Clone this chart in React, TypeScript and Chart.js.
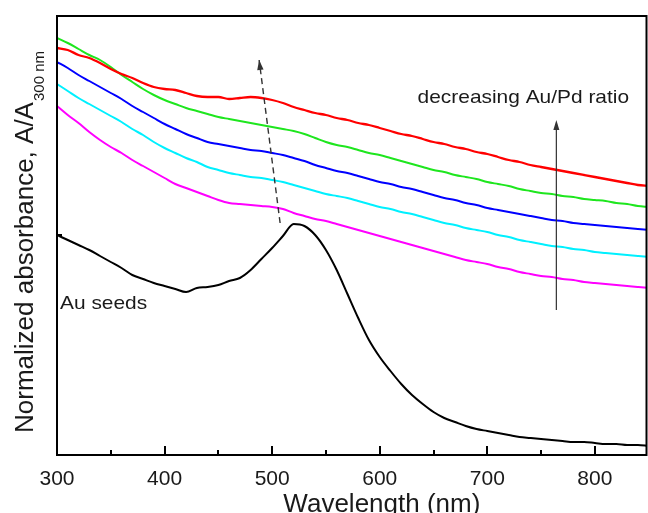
import React, { useEffect, useRef } from 'react';
import { Chart, registerables } from 'chart.js';

Chart.register(...registerables);

// Wavelength grid (nm)
const wavelengths = [
  300, 310, 320, 330, 340, 350, 360, 370, 380, 390,
  400, 410, 420, 430, 440, 450, 460, 470, 480, 490,
  500, 510, 520, 530, 540, 550, 560, 570, 580, 590,
  600, 610, 620, 630, 640, 650, 660, 670, 680, 690,
  700, 710, 720, 730, 740, 750, 760, 770, 780, 790,
  800, 810, 820, 830, 840, 850,
];

// Normalized absorbance (offset, arbitrary units)
const redSeries = [
  4.07, 4.05, 4.00, 3.97, 3.92, 3.86, 3.81, 3.77, 3.72, 3.68,
  3.66, 3.65, 3.62, 3.59, 3.58, 3.58, 3.56, 3.57, 3.58, 3.57,
  3.55, 3.52, 3.48, 3.45, 3.42, 3.40, 3.37, 3.35, 3.32, 3.30,
  3.27, 3.24, 3.21, 3.19, 3.16, 3.13, 3.11, 3.08, 3.06, 3.03,
  3.01, 2.98, 2.95, 2.93, 2.90, 2.88, 2.86, 2.84, 2.82, 2.80,
  2.78, 2.76, 2.74, 2.72, 2.70, 2.69,
];
const greenSeries = [
  4.17, 4.12, 4.06, 4.00, 3.95, 3.88, 3.80, 3.73, 3.66, 3.60,
  3.55, 3.51, 3.47, 3.44, 3.41, 3.38, 3.36, 3.34, 3.32, 3.30,
  3.28, 3.26, 3.24, 3.21, 3.17, 3.13, 3.10, 3.08, 3.05, 3.02,
  3.00, 2.97, 2.94, 2.91, 2.88, 2.85, 2.83, 2.80, 2.78, 2.76,
  2.73, 2.71, 2.69, 2.66, 2.64, 2.62, 2.61, 2.59, 2.58, 2.56,
  2.55, 2.54, 2.52, 2.51, 2.49, 2.48,
];
const blueSeries = [
  3.93, 3.87, 3.80, 3.74, 3.68, 3.62, 3.56, 3.49, 3.43, 3.37,
  3.31, 3.26, 3.21, 3.17, 3.13, 3.11, 3.09, 3.07, 3.05, 3.04,
  3.02, 3.00, 2.97, 2.94, 2.90, 2.87, 2.84, 2.82, 2.79, 2.76,
  2.73, 2.71, 2.68, 2.66, 2.63, 2.60, 2.57, 2.55, 2.52, 2.50,
  2.47, 2.45, 2.43, 2.41, 2.39, 2.37, 2.35, 2.34, 2.32, 2.31,
  2.30, 2.29, 2.28, 2.27, 2.26, 2.25,
];
const cyanSeries = [
  3.71, 3.64, 3.57, 3.51, 3.45, 3.39, 3.33, 3.26, 3.20, 3.13,
  3.07, 3.02, 2.97, 2.93, 2.88, 2.85, 2.82, 2.80, 2.78, 2.77,
  2.75, 2.73, 2.70, 2.67, 2.64, 2.61, 2.59, 2.57, 2.54, 2.51,
  2.48, 2.46, 2.43, 2.41, 2.38, 2.35, 2.32, 2.30, 2.27, 2.25,
  2.23, 2.20, 2.18, 2.15, 2.13, 2.11, 2.09, 2.08, 2.06, 2.05,
  2.03, 2.02, 2.01, 2.00, 1.99, 1.98,
];
const magentaSeries = [
  3.49, 3.40, 3.32, 3.23, 3.15, 3.08, 3.02, 2.95, 2.89, 2.83,
  2.77, 2.71, 2.67, 2.63, 2.59, 2.55, 2.52, 2.51, 2.50, 2.49,
  2.48, 2.46, 2.42, 2.39, 2.36, 2.34, 2.31, 2.28, 2.25, 2.22,
  2.19, 2.16, 2.13, 2.10, 2.07, 2.04, 2.01, 1.98, 1.95, 1.93,
  1.91, 1.88, 1.86, 1.83, 1.81, 1.79, 1.78, 1.76, 1.75, 1.73,
  1.72, 1.71, 1.70, 1.69, 1.68, 1.67,
];
const auSeedsSeries = [
  2.20, 2.15, 2.10, 2.05, 1.99, 1.93, 1.87, 1.80, 1.76, 1.72,
  1.69, 1.66, 1.63, 1.67, 1.68, 1.70, 1.74, 1.77, 1.85, 1.96,
  2.07, 2.19, 2.31, 2.29, 2.20, 2.05, 1.85, 1.61, 1.37, 1.15,
  0.98, 0.84, 0.71, 0.60, 0.51, 0.43, 0.37, 0.33, 0.29, 0.26,
  0.24, 0.22, 0.20, 0.18, 0.17, 0.16, 0.15, 0.14, 0.13, 0.13,
  0.12, 0.11, 0.11, 0.10, 0.10, 0.09,
];

const seriesList = [
  { label: 'Au/Pd 1', values: redSeries, color: '#ff0000', width: 2.3 },
  { label: 'Au/Pd 2', values: greenSeries, color: '#1ee61e', width: 2 },
  { label: 'Au/Pd 3', values: blueSeries, color: '#0000ff', width: 2 },
  { label: 'Au/Pd 4', values: cyanSeries, color: '#00f0ff', width: 2 },
  { label: 'Au/Pd 5', values: magentaSeries, color: '#ff00ff', width: 2 },
  { label: 'Au seeds', values: auSeedsSeries, color: '#000000', width: 2 },
];

const xMajorTicks = [300, 400, 500, 600, 700, 800];
const xMinorTicks = [350, 450, 550, 650, 750];
const yTickValues = [2.2];

const X_MIN = 300;
const X_MAX = 848;
const Y_MIN = 0;
const Y_MAX = 4.39;

const xTitle = 'Wavelength (nm)';
const yTitleMain = 'Normalized absorbance, A/A';
const yTitleSub = '300 nm';

const textLabels = [
  { text: 'decreasing Au/Pd ratio', x: 733.5, y: 3.52, align: 'center' },
  { text: 'Au seeds', x: 302.8, y: 1.46, align: 'left' },
];
const dashedArrow = { from: [507.4, 2.32], to: [487.9, 3.95] };
const solidArrow = { from: [764.2, 1.45], to: [764.2, 3.35] };

const FONT = '"Liberation Sans", Arial, Helvetica, sans-serif';

function drawArrowHead(ctx: CanvasRenderingContext2D, x1: number, y1: number, x2: number, y2: number, len: number, half: number) {
  const ang = Math.atan2(y2 - y1, x2 - x1);
  const bx = x2 - len * Math.cos(ang);
  const by = y2 - len * Math.sin(ang);
  const px = -Math.sin(ang) * half;
  const py = Math.cos(ang) * half;
  ctx.beginPath();
  ctx.moveTo(x2, y2);
  ctx.lineTo(bx + px, by + py);
  ctx.lineTo(bx - px, by - py);
  ctx.closePath();
  ctx.fill();
}

function tickLine(ctx: CanvasRenderingContext2D, x1: number, y1: number, x2: number, y2: number) {
  ctx.beginPath();
  ctx.moveTo(x1, y1);
  ctx.lineTo(x2, y2);
  ctx.stroke();
}

const framePlugin = {
  id: 'framePlugin',
  afterDraw(chart: any) {
    const { ctx, chartArea, scales } = chart;
    const xs = scales.x;
    const ys = scales.y;
    const { left, right, top, bottom } = chartArea;
    ctx.save();
    ctx.setLineDash([]);

    // frame
    ctx.strokeStyle = '#000000';
    ctx.lineWidth = 2;
    ctx.strokeRect(left, top, right - left, bottom - top);

    // ticks (inward)
    ctx.lineWidth = 2;
    for (const v of xMajorTicks) {
      const px = Math.round(xs.getPixelForValue(v));
      tickLine(ctx, px, bottom, px, bottom - 9);
    }
    for (const v of xMinorTicks) {
      const px = Math.round(xs.getPixelForValue(v));
      tickLine(ctx, px, bottom, px, bottom - 5);
    }
    for (const v of yTickValues) {
      const py = Math.round(ys.getPixelForValue(v));
      tickLine(ctx, left, py, left + 5, py);
    }

    // arrows
    ctx.fillStyle = '#333333';
    ctx.strokeStyle = '#333333';
    {
      const x1 = xs.getPixelForValue(dashedArrow.from[0]);
      const y1 = ys.getPixelForValue(dashedArrow.from[1]);
      const x2 = xs.getPixelForValue(dashedArrow.to[0]);
      const y2 = ys.getPixelForValue(dashedArrow.to[1]);
      ctx.lineWidth = 1.4;
      ctx.setLineDash([6, 4]);
      tickLine(ctx, x1, y1, x2, y2);
      ctx.setLineDash([]);
      drawArrowHead(ctx, x1, y1, x2, y2, 10, 3.2);
    }
    {
      const x1 = xs.getPixelForValue(solidArrow.from[0]);
      const y1 = ys.getPixelForValue(solidArrow.from[1]);
      const x2 = xs.getPixelForValue(solidArrow.to[0]);
      const y2 = ys.getPixelForValue(solidArrow.to[1]);
      ctx.lineWidth = 1.2;
      tickLine(ctx, x1, y1, x2, y2 + 6);
      drawArrowHead(ctx, x1, y1, x2, y2, 10, 3);
    }

    // text annotations
    ctx.fillStyle = '#1a1a1a';
    ctx.textBaseline = 'alphabetic';
    for (const t of textLabels) {
      const px = xs.getPixelForValue(t.x);
      const py = ys.getPixelForValue(t.y);
      ctx.save();
      ctx.font = `19px ${FONT}`;
      ctx.translate(px, py);
      ctx.scale(1.1, 1);
      ctx.textAlign = t.align as CanvasTextAlign;
      ctx.fillText(t.text, 0, 0);
      ctx.restore();
    }

    // x title
    ctx.save();
    ctx.font = `26px ${FONT}`;
    ctx.textAlign = 'center';
    ctx.textBaseline = 'alphabetic';
    ctx.fillText(xTitle, xs.getPixelForValue(602), 512);
    ctx.restore();

    // y title with subscript
    ctx.save();
    ctx.translate(33, 433);
    ctx.rotate(-Math.PI / 2);
    ctx.font = `26px ${FONT}`;
    ctx.textAlign = 'left';
    ctx.textBaseline = 'alphabetic';
    ctx.fillText(yTitleMain, 0, 0);
    const w = ctx.measureText(yTitleMain).width;
    ctx.font = `15px ${FONT}`;
    ctx.fillText(yTitleSub, w + 1, 10.5);
    ctx.restore();

    ctx.restore();
  },
};

export default function App() {
  const canvasRef = useRef<HTMLCanvasElement | null>(null);

  useEffect(() => {
    document.body.style.margin = '0';
    const canvas = canvasRef.current;
    if (!canvas) return;
    const chart = new Chart(canvas, {
      type: 'line',
      data: {
        datasets: seriesList.map((s) => ({
          label: s.label,
          data: wavelengths.map((w, i) => ({ x: w, y: s.values[i] })),
          borderColor: s.color,
          backgroundColor: s.color,
          borderWidth: s.width,
          pointRadius: 0,
          cubicInterpolationMode: 'monotone',
          fill: false,
        })),
      },
      options: {
        responsive: false,
        animation: false,
        devicePixelRatio: 1,
        layout: { padding: { left: 57, top: 16, right: 1.5, bottom: 0 } },
        plugins: {
          legend: { display: false },
          tooltip: { enabled: false },
          title: { display: false },
        },
        scales: {
          x: {
            type: 'linear',
            min: X_MIN,
            max: X_MAX,
            grid: { display: false },
            border: { display: false },
            afterBuildTicks: (scale: any) => {
              scale.ticks = xMajorTicks.map((v) => ({ value: v }));
            },
            afterFit: (scale: any) => {
              scale.height = 58;
            },
            ticks: {
              color: '#1a1a1a',
              padding: 4,
              maxRotation: 0,
              autoSkip: false,
              font: { family: FONT, size: 21 },
            },
          },
          y: {
            display: false,
            min: Y_MIN,
            max: Y_MAX,
          },
        },
      },
      plugins: [framePlugin],
    } as any);
    return () => chart.destroy();
  }, []);

  return (
    <div style={{ width: 648, height: 513 }}>
      <canvas ref={canvasRef} width={648} height={513} style={{ display: 'block' }} />
    </div>
  );
}
